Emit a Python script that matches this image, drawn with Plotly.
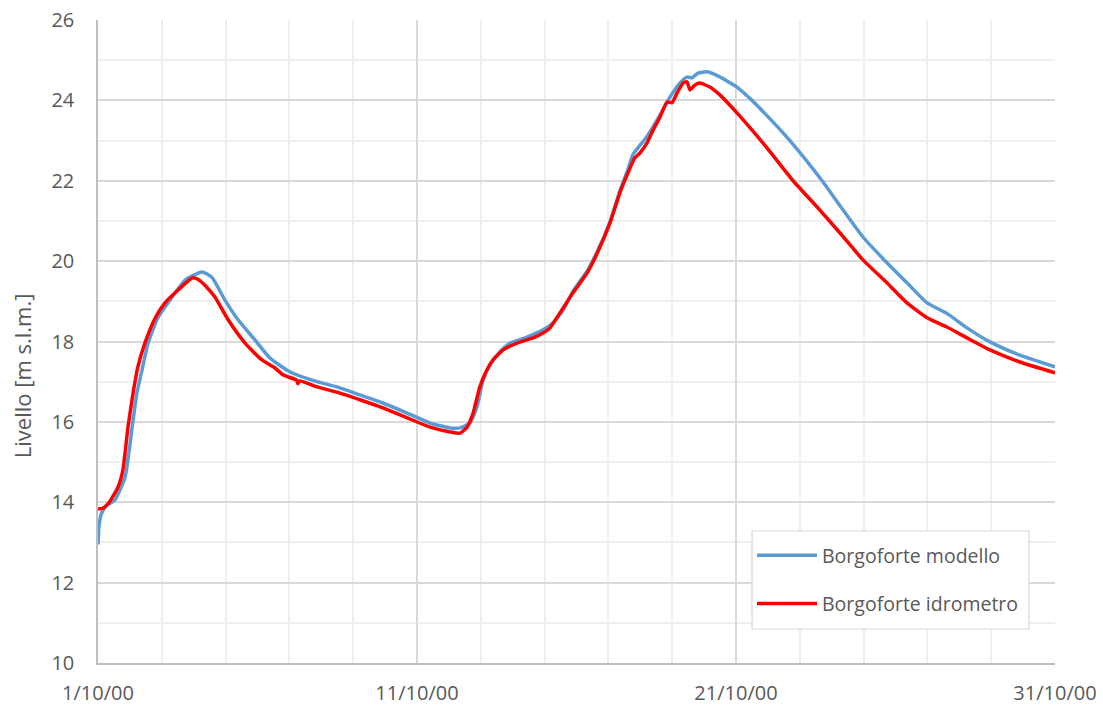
import pandas as pd
import plotly.graph_objects as go

START = pd.Timestamp("2000-10-01")

# Borgoforte modello: days since 1/10/00 and water level [m s.l.m.]
modello_days = [0.0, 0.03, 0.1, 0.25, 0.53, 0.85, 1.07, 1.22, 1.38, 1.57, 1.88, 2.32, 2.73,
                3.26, 3.57, 3.98, 4.39, 4.92, 5.39, 6.02, 6.87, 7.49, 8.21, 8.93, 9.69,
                10.41, 11.03, 11.35, 11.66, 11.88, 12.07, 12.29, 12.60, 12.92, 13.45,
                13.95, 14.26, 14.58, 14.89, 15.33, 15.67, 16.05, 16.36, 16.61, 16.77,
                17.21, 17.62, 17.93, 18.24, 18.46, 18.62, 18.81, 19.09, 19.40, 19.72,
                20.03, 20.50, 20.97, 21.69, 22.70, 23.26, 23.98, 24.61, 25.36, 25.99,
                26.61, 27.24, 27.96, 28.90, 30.0]
modello_level = [12.95, 13.4, 13.7, 13.9, 14.06, 14.63, 15.87, 16.72, 17.29, 17.96, 18.6,
                 19.1, 19.53, 19.73, 19.6, 19.03, 18.54, 18.04, 17.59, 17.24, 17.0, 16.87,
                 16.67, 16.47, 16.22, 15.97, 15.85, 15.85, 15.97, 16.37, 17.04, 17.42,
                 17.74, 17.96, 18.11, 18.29, 18.46, 18.78, 19.25, 19.75, 20.27, 20.98,
                 21.75, 22.28, 22.65, 23.1, 23.64, 24.08, 24.43, 24.58, 24.56, 24.68,
                 24.71, 24.62, 24.48, 24.33, 24.0, 23.62, 23.0, 22.0, 21.38, 20.6,
                 20.06, 19.46, 18.96, 18.7, 18.34, 17.99, 17.66, 17.37]

# Borgoforte idrometro: days since 1/10/00 and observed water level [m s.l.m.]
idrometro_days = [0.0, 0.15, 0.35, 0.63, 0.78, 0.94, 1.10, 1.25, 1.47, 1.79, 2.10, 2.51,
                  2.95, 3.13, 3.35, 3.67, 4.08, 4.61, 5.14, 5.55, 5.80, 6.22, 6.27, 6.32,
                  6.87, 7.49, 8.21, 8.93, 9.69, 10.41, 11.03, 11.35, 11.57, 11.76, 11.97,
                  12.19, 12.38, 12.70, 13.13, 13.64, 13.95, 14.17, 14.48, 14.89, 15.33,
                  15.67, 16.05, 16.36, 16.61, 16.83, 16.99, 17.21, 17.40, 17.62, 17.84,
                  17.99, 18.15, 18.34, 18.46, 18.56, 18.71, 18.87, 19.18, 19.50, 19.81,
                  20.13, 20.97, 21.79, 22.63, 23.26, 23.98, 24.73, 25.36, 25.99, 26.61,
                  27.24, 27.96, 28.90, 30.0]
idrometro_level = [13.83, 13.85, 14.0, 14.38, 14.8, 15.87, 16.72, 17.37, 17.96, 18.58,
                   18.96, 19.28, 19.58, 19.55, 19.40, 19.10, 18.54, 17.96, 17.54, 17.34,
                   17.17, 17.04, 16.95, 17.02, 16.87, 16.74, 16.55, 16.35, 16.1, 15.87,
                   15.75, 15.72, 15.87, 16.22, 16.87, 17.29, 17.54, 17.79, 17.96, 18.09,
                   18.21, 18.34, 18.71, 19.21, 19.7, 20.23, 20.95, 21.7, 22.19, 22.57,
                   22.69, 22.94, 23.26, 23.59, 23.96, 23.94, 24.18, 24.43, 24.46, 24.26,
                   24.38, 24.43, 24.33, 24.13, 23.88, 23.6, 22.82, 22.0, 21.27, 20.7,
                   20.03, 19.46, 18.96, 18.59, 18.36, 18.09, 17.79, 17.49, 17.22]

FONT = "Open Sans"
TEXT = "#595959"
DAY_MS = 86400000


def to_dates(days):
    return [START + pd.Timedelta(days=d) for d in days]


fig = go.Figure()
fig.add_trace(go.Scatter(
    x=to_dates(modello_days), y=modello_level, mode="lines",
    name="Borgoforte modello", legendgroup="a",
    line=dict(color="#5B9BD5", width=3.5, shape="spline", smoothing=0.5),
))
fig.add_trace(go.Scatter(
    x=to_dates(idrometro_days), y=idrometro_level, mode="lines",
    name="Borgoforte idrometro", legendgroup="b",
    line=dict(color="#FF0000", width=3.5, shape="spline", smoothing=0.5),
))

# Framed white panel behind the legend entries
fig.add_shape(
    type="rect", xref="paper", yref="paper",
    x0=0.6834, x1=0.9728, y0=0.0529, y1=0.2053,
    fillcolor="white", line=dict(color="#d9d9d9", width=1.2), layer="above",
)

# Y axis title, set a little below the vertical centre of the plot
fig.add_annotation(
    text="Livello [m s.l.m.]", textangle=-90, showarrow=False,
    xref="paper", yref="paper", x=-0.0794, y=0.446,
    xanchor="center", yanchor="middle",
    font=dict(family=FONT, size=22, color=TEXT),
)

fig.update_layout(
    width=1103, height=706,
    margin=dict(l=98, r=48, t=20, b=43),
    plot_bgcolor="white", paper_bgcolor="white",
    font=dict(family=FONT, size=19, color=TEXT),
    legend=dict(
        x=0.6834, y=0.1975, xanchor="left", yanchor="top",
        bgcolor="rgba(0,0,0,0)", borderwidth=0,
        font=dict(family=FONT, size=19.5, color=TEXT),
        tracegroupgap=20, itemwidth=60,
    ),
)

fig.update_xaxes(
    type="date", automargin=False,
    range=[START, START + pd.Timedelta(days=30)],
    tick0=START, dtick=10 * DAY_MS, tickformat="%-d/%m/%y",
    showgrid=True, gridcolor="#d9d9d9", gridwidth=1.5,
    minor=dict(tick0=START, dtick=2 * DAY_MS, showgrid=True,
               gridcolor="#efefef", gridwidth=1.5),
    showline=True, linecolor="#bfbfbf", linewidth=1.5,
    ticks="", ticklabelstandoff=11,
    tickfont=dict(family=FONT, size=20, color=TEXT),
    zeroline=False,
)
fig.update_yaxes(
    range=[10, 26], dtick=2, tick0=10, automargin=False,
    showgrid=True, gridcolor="#d9d9d9", gridwidth=1.5,
    minor=dict(dtick=1, showgrid=True, gridcolor="#efefef", gridwidth=1.5),
    showline=True, linecolor="#bfbfbf", linewidth=1.5,
    ticks="", ticklabelstandoff=18,
    tickfont=dict(family=FONT, size=20, color=TEXT),
    zeroline=False,
)

fig.write_html("out.html")
